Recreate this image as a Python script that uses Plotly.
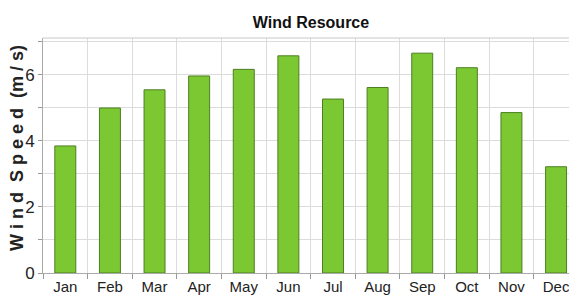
import plotly.graph_objects as go

months = ["Jan", "Feb", "Mar", "Apr", "May", "Jun", "Jul", "Aug", "Sep", "Oct", "Nov", "Dec"]
wind_speed = [3.85, 5.0, 5.55, 5.97, 6.17, 6.58, 5.27, 5.62, 6.66, 6.22, 4.86, 3.22]
y_tick_vals = [0, 2, 4, 6]

W, H = 569, 297
L, T, B = 43, 38, 24
plot_w = W - L
plot_h = H - T - B

fig = go.Figure(go.Bar(
    x=months, y=wind_speed, width=0.47,
    marker=dict(color="#7cc832", line=dict(color="#4d7f22", width=1)),
))

fig.update_layout(
    width=W, height=H,
    margin=dict(l=L, r=0, t=T, b=B),
    plot_bgcolor="white", paper_bgcolor="white",
    showlegend=False,
    font=dict(family="Liberation Sans Narrow, Arial Narrow, Liberation Sans, Arial", size=15, color="#222"),
    title=dict(text="<b>Wind Resource</b>", x=(311 - L) / plot_w, xref="paper", xanchor="center",
               y=1 - 22 / H, yref="container", yanchor="middle",
               font=dict(family="Liberation Sans, Arial", size=16, color="#111")),
    bargap=0.5,
)

fig.update_xaxes(
    type="category", range=[-0.5, 11.29],
    tickson="boundaries", ticks="outside", ticklen=5, tickcolor="#999",
    showgrid=True, gridcolor="#dcdcdc", gridwidth=1,
    showline=True, linecolor="#aaa", linewidth=1,
    tickfont=dict(size=15, color="#222"), fixedrange=True,
)

fig.update_yaxes(
    range=[0, 7.12], tickvals=y_tick_vals,
    ticks="outside", ticklen=4, tickcolor="#999",
    showgrid=True, gridcolor="#dcdcdc", gridwidth=1,
    minor=dict(dtick=1, showgrid=True, gridcolor="#dcdcdc", ticks="outside", ticklen=4, tickcolor="#999"),
    showline=True, linecolor="#aaa", linewidth=1, mirror=False,
    zeroline=False,
    tickfont=dict(size=17, color="#222"), ticklabelstandoff=0,
)

# top border line
fig.add_shape(type="line", xref="paper", yref="paper", x0=0, x1=1, y0=1, y1=1,
              line=dict(color="#c8c8c8", width=1))

fig.add_annotation(
    text="<b>W i n d  S p e e d  (m / s)</b>", textangle=-90,
    xref="paper", yref="paper", x=(17 - L) / plot_w, y=(273 - 148) / plot_h,
    xanchor="center", yanchor="middle", showarrow=False,
    font=dict(family="Liberation Sans, Arial", size=18, color="#222"),
)

fig.write_html("out.html", config={"displayModeBar": False},
               post_script="document.body.style.margin='0px';document.body.style.overflow='hidden';")
